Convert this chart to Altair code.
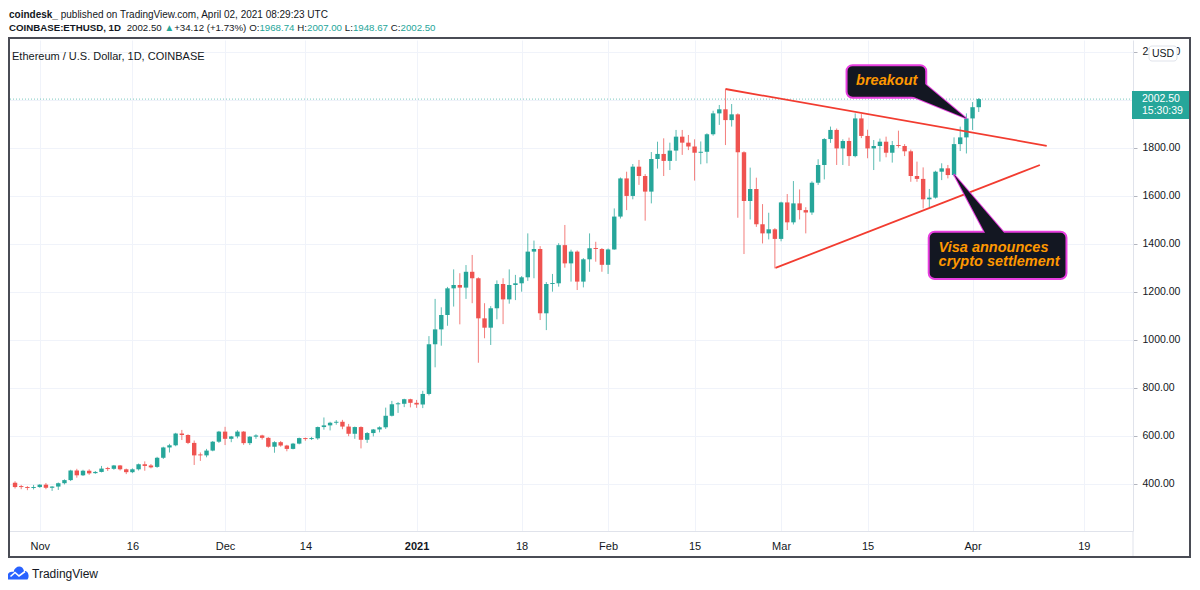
import altair as alt
import numpy as np
import pandas as pd

GREEN = "#26a69a"
RED = "#ef5350"
DARK = "#131722"
GRID = "#f0f3fa"
AXISLINE = "#e0e3eb"
FONT = "Liberation Sans"

# ---------------- data ----------------
dates = pd.date_range("2020-10-28", "2021-04-02", freq="D")
opens = [404, 389, 386, 382, 386, 396, 383, 388, 402, 415,
         455, 435, 454, 444, 449, 463, 462, 476, 460, 448,
         460, 481, 476, 470, 508, 551, 560, 609, 603, 570,
         520, 518, 538, 575, 617, 587, 597, 617, 569, 596,
         601, 591, 554, 573, 559, 545, 567, 590, 586, 589,
         636, 643, 654, 658, 638, 608, 636, 583, 611, 626,
         635, 683, 731, 733, 752, 737, 730, 774, 981, 1043,
         1103, 1214, 1228, 1217, 1283, 1256, 1089, 1050, 1131, 1232,
         1168, 1228, 1235, 1260, 1367, 1378, 1110, 1232, 1235, 1394,
         1318, 1367, 1242, 1335, 1381, 1378, 1312, 1376, 1513, 1672,
         1599, 1721, 1682, 1617, 1753, 1774, 1745, 1788, 1846, 1821,
         1805, 1779, 1783, 1856, 1943, 1960, 1915, 1939, 1781, 1578,
         1628, 1481, 1443, 1460, 1420, 1572, 1489, 1568, 1540, 1530,
         1654, 1728, 1836, 1874, 1797, 1828, 1765, 1922, 1849, 1797,
         1807, 1825, 1779, 1811, 1807, 1785, 1682, 1670, 1585, 1592,
         1700, 1714, 1686, 1815, 1843, 1922, 1968.74]
highs = [410, 395, 390, 395, 398, 403, 390, 405, 418, 458,
         462, 458, 460, 453, 474, 470, 478, 478, 463, 464,
         484, 493, 482, 512, 554, 566, 612, 624, 606, 580,
         530, 545, 578, 620, 637, 599, 623, 619, 598, 606,
         604, 594, 577, 578, 562, 570, 592, 592, 595, 638,
         676, 658, 665, 666, 649, 638, 639, 615, 628, 639,
         717, 745, 740, 754, 754, 749, 787, 1015, 1170, 1135,
         1220, 1293, 1277, 1311, 1353, 1260, 1152, 1140, 1247, 1256,
         1293, 1270, 1265, 1443, 1413, 1390, 1240, 1274, 1402, 1478,
         1375, 1372, 1340, 1443, 1408, 1382, 1380, 1547, 1676, 1700,
         1732, 1749, 1690, 1782, 1825, 1839, 1821, 1874, 1874, 1853,
         1835, 1826, 1860, 1954, 1978, 2043, 1982, 1943, 1785, 1717,
         1675, 1565, 1529, 1465, 1575, 1607, 1661, 1626, 1552, 1660,
         1752, 1840, 1888, 1880, 1835, 1842, 1943, 1940, 1875, 1832,
         1838, 1846, 1828, 1871, 1815, 1792, 1742, 1718, 1628, 1704,
         1735, 1728, 1843, 1888, 1943, 1990, 2007]
lows = [380, 377, 373, 376, 383, 377, 370, 374, 397, 411,
        425, 432, 437, 441, 447, 453, 458, 455, 440, 444,
        455, 454, 464, 466, 503, 530, 556, 582, 565, 478,
        495, 510, 535, 570, 561, 573, 589, 562, 561, 587,
        584, 550, 529, 554, 535, 543, 564, 579, 582, 583,
        625, 622, 646, 627, 598, 587, 547, 570, 597, 614,
        628, 680, 695, 719, 718, 716, 715, 768, 885, 975,
        1058, 1138, 1064, 1170, 1152, 904, 1006, 978, 1085, 1065,
        1150, 1165, 1200, 1245, 1256, 1082, 1040, 1200, 1221, 1300,
        1242, 1207, 1218, 1283, 1325, 1283, 1274, 1375, 1505, 1540,
        1585, 1645, 1496, 1568, 1713, 1682, 1707, 1745, 1770, 1790,
        1663, 1731, 1735, 1850, 1895, 1811, 1888, 1508, 1357, 1501,
        1470, 1401, 1418, 1297, 1410, 1457, 1480, 1501, 1443, 1520,
        1645, 1668, 1820, 1728, 1728, 1724, 1760, 1840, 1756, 1707,
        1742, 1760, 1738, 1800, 1765, 1658, 1658, 1547, 1552, 1588,
        1665, 1672, 1680, 1786, 1776, 1874, 1948.67]
closes = [386, 386, 382, 386, 396, 383, 388, 402, 415, 455,
          435, 454, 443, 449, 463, 461, 476, 460, 448, 460,
          481, 474, 468, 508, 551, 560, 609, 603, 570, 518,
          518, 538, 575, 617, 587, 597, 617, 569, 596, 601,
          591, 554, 573, 559, 545, 567, 590, 586, 589, 636,
          643, 654, 658, 638, 608, 636, 583, 611, 626, 635,
          683, 731, 733, 752, 737, 730, 774, 981, 1043, 1103,
          1214, 1228, 1217, 1283, 1256, 1089, 1050, 1131, 1232, 1168,
          1228, 1235, 1260, 1367, 1378, 1110, 1232, 1235, 1394, 1318,
          1367, 1242, 1335, 1381, 1378, 1312, 1376, 1513, 1672, 1599,
          1721, 1682, 1617, 1753, 1774, 1745, 1788, 1846, 1821, 1805,
          1779, 1783, 1856, 1943, 1960, 1915, 1939, 1781, 1578, 1628,
          1481, 1443, 1460, 1420, 1572, 1489, 1568, 1540, 1530, 1654,
          1728, 1836, 1874, 1797, 1828, 1765, 1922, 1849, 1797, 1807,
          1825, 1779, 1811, 1807, 1785, 1682, 1670, 1585, 1592, 1700,
          1714, 1686, 1815, 1843, 1922, 1968.74, 2002.5]

tick_days = [0, 15, 30, 43, 61, 78, 92, 106, 120, 134, 151, 169]
tick_labels = ["Nov", "16", "Dec", "14", "2021", "18", "Feb", "15", "Mar", "15", "Apr", "19"]
price_ticks = [400, 600, 800, 1000, 1200, 1400, 1600, 1800, 2000, 2200]

# triangle trend lines (day index from Nov 1, price)
trend_names = ["upper", "upper", "lower", "lower"]
trend_days = [111.0, 163.0, 119.1, 161.9]
trend_prices = [2044.6, 1808.0, 1299.0, 1728.0]

# annotation callouts
breakout_label = "breakout"
breakout_box_days = [130.6, 143.5]
breakout_box_prices = [2008.0, 2144.0]
breakout_text_at = [137.1, 2078.0]
breakout_ptr_days = [140.7, 143.3, 150.0]
breakout_ptr_prices = [2019.6, 2065.4, 1922.0]

visa_lines = ["Visa announces", "crypto settlement"]
visa_box_days = [143.9, 166.2]
visa_box_prices = [1253.0, 1450.0]
visa_text_days = [145.5, 145.5]
visa_text_prices = [1381.0, 1322.5]
visa_ptr_days = [153.2, 156.4, 147.97]
visa_ptr_prices = [1436.0, 1436.0, 1689.0]

# header segments: (text, colour, weight, gap after in spaces)
header1 = [("coindesk_", DARK, "bold", 1),
           ("published on TradingView.com, April 02, 2021 08:29:23 UTC", DARK, "normal", 0)]
header2 = [("COINBASE:ETHUSD, 1D", DARK, "bold", 2), ("2002.50", DARK, "normal", 1),
           ("\u25b2", GREEN, "normal", 1), ("+34.12 (+1.73%)", DARK, "normal", 1),
           ("O:", DARK, "normal", 0), ("1968.74", GREEN, "normal", 1),
           ("H:", DARK, "normal", 0), ("2007.00", GREEN, "normal", 1),
           ("L:", DARK, "normal", 0), ("1948.67", GREEN, "normal", 1),
           ("C:", DARK, "normal", 0), ("2002.50", GREEN, "normal", 0)]

# ---------------- frame ----------------
origin = pd.Timestamp("2020-11-01")
df = pd.DataFrame({"date": dates, "open": opens, "high": highs, "low": lows, "close": closes})
df["day"] = (df["date"] - origin).dt.days
up = df["close"] >= df["open"]
df["color"] = np.where(up, GREEN, RED)
df["blo"] = np.minimum(df["open"], df["close"])
df["bhi"] = np.maximum(np.maximum(df["open"], df["close"]), df["blo"] + 4)

W, H = 1125, 491
xs = alt.Scale(domain=[-4.33, 176.16], nice=False, zero=False)
ys = alt.Scale(domain=[202.9, 2248.75], nice=False, zero=False)

label_expr = "[" + ",".join("'%s'" % t for t in tick_labels) + "][indexof([" + \
    ",".join(str(d) for d in tick_days) + "], datum.value)]"
xaxis = alt.Axis(values=tick_days, labelExpr=label_expr, grid=True, gridColor=GRID,
                 ticks=False, domain=True, domainColor=AXISLINE, labelFont=FONT,
                 labelFontSize=11, labelColor=DARK, labelPadding=9, title=None,
                 labelFontWeight={"condition": {"test": "datum.value == 61", "value": "bold"},
                                  "value": "normal"})
yaxis = alt.Axis(orient="right", values=price_ticks, format=".2f", grid=True, gridColor=GRID,
                 tickColor="#b2b5be", tickSize=4, domain=True, domainColor=AXISLINE,
                 labelFont=FONT, labelFontSize=10.5, labelColor=DARK, labelPadding=5,
                 title=None)


def X(f):
    return alt.X(f, scale=xs, axis=xaxis)


def Y(f):
    return alt.Y(f, scale=ys, axis=yaxis)


base = alt.Chart(df)
wicks = base.mark_rule(strokeWidth=1, opacity=0.75).encode(
    x=X("day:Q"), y=Y("low:Q"), y2="high:Q", color=alt.Color("color:N", scale=None))
bodies = base.mark_bar(size=4.4).encode(
    x=X("day:Q"), y=Y("blo:Q"), y2="bhi:Q", color=alt.Color("color:N", scale=None))

last = pd.DataFrame({"p": [closes[-1]]})
price_line = alt.Chart(last).mark_rule(color=GREEN, strokeDash=[1, 2], opacity=0.6).encode(
    y=Y("p:Q"))

tdf = pd.DataFrame({"name": trend_names, "d": trend_days, "p": trend_prices})
trends = alt.Chart(tdf).mark_line(color="#f23c30", strokeWidth=1.8).encode(
    x=X("d:Q"), y=Y("p:Q"), detail="name:N")

BOX = "#131722"
PINK = "#e83ee0"


def callout(box_d, box_p, ptr_d, ptr_p):
    ptr = pd.DataFrame({"d": ptr_d, "p": ptr_p, "i": list(range(len(ptr_d)))})
    p1 = alt.Chart(ptr).mark_line(interpolate="linear-closed", fill=BOX, stroke=PINK,
                                  strokeWidth=2).encode(x=X("d:Q"), y=Y("p:Q"), order="i:Q")
    bx = pd.DataFrame({"d0": [box_d[0]], "d1": [box_d[1]], "p0": [box_p[0]], "p1": [box_p[1]]})
    r = alt.Chart(bx).mark_rect(fill=BOX, stroke=PINK, strokeWidth=2, cornerRadius=6).encode(
        x=X("d0:Q"), x2="d1:Q", y=Y("p0:Q"), y2="p1:Q")
    p2 = alt.Chart(ptr).mark_line(interpolate="linear-closed", fill=BOX, strokeWidth=0,
                                  stroke=BOX, strokeOpacity=0).encode(
        x=X("d:Q"), y=Y("p:Q"), order="i:Q")
    return [p1, r, p2]


ORANGE = "#ff9800"
btxt = alt.Chart(pd.DataFrame({"t": [breakout_label], "d": [breakout_text_at[0]],
                               "p": [breakout_text_at[1]]})).mark_text(
    font=FONT, fontSize=14.5, fontWeight="bold", fontStyle="italic", color=ORANGE,
    align="center", baseline="middle").encode(x=X("d:Q"), y=Y("p:Q"), text="t:N")
vtxt = alt.Chart(pd.DataFrame({"t": visa_lines, "d": visa_text_days, "p": visa_text_prices})).mark_text(
    font=FONT, fontSize=14.5, fontWeight="bold", fontStyle="italic", color=ORANGE,
    align="left", baseline="middle").encode(x=X("d:Q"), y=Y("p:Q"), text="t:N")


def txt(s, px, py, color=DARK, size=10, weight="normal", align="left", font=FONT):
    return alt.Chart(pd.DataFrame({"t": [s]})).mark_text(
        align=align, baseline="middle", color=color, fontSize=size, fontWeight=weight,
        font=font).encode(x=alt.value(px - 8), y=alt.value(py - 40), text="t:N")


# approximate Arial metrics for laying out the coloured header segments
REG = {" ": 278, "%": 889, "(": 333, ")": 333, "+": 584, ",": 278, ".": 278, ":": 278,
       "_": 556, "A": 667, "C": 722, "D": 722, "H": 722, "L": 556, "O": 778, "T": 611,
       "U": 722, "V": 667, "c": 500, "i": 222, "k": 500, "l": 222, "m": 833, "r": 333,
       "s": 500, "t": 278, "v": 500, "w": 722, "\u25b2": 700}
BLD = {" ": 278, ",": 278, ":": 333, "I": 278, "E": 667, "S": 667, "T": 611, "O": 778,
       "i": 278, "o": 611, "n": 611, "d": 611, "c": 556, "e": 556, "s": 556, "k": 556}


def width(s, size, bold):
    tab = BLD if bold else REG
    dflt = 722 if bold else 556
    return sum(tab.get(ch, dflt if ch.isupper() else 556) for ch in s) * size / 1000.0


layers = [wicks, bodies, price_line, trends]
layers += callout(breakout_box_days, breakout_box_prices, breakout_ptr_days, breakout_ptr_prices)
layers += callout(visa_box_days, visa_box_prices, visa_ptr_days, visa_ptr_prices)
layers += [btxt, vtxt]

for line, py, hs in ((header1, 14.5, 10), (header2, 28.0, 9.7)):
    px = 9
    for s, col, wt, gap in line:
        layers.append(txt(s, px, py, color=col, size=hs, weight=wt))
        px += width(s, hs, wt == "bold") + gap * 2.8

layers.append(txt("Ethereum / U.S. Dollar, 1D, COINBASE", 12, 57, size=11))

one = pd.DataFrame({"a": [0]})
# last price tag on the price scale
layers.append(alt.Chart(one).mark_rect(color=GREEN).encode(
    x=alt.value(1124), x2=alt.value(1181), y=alt.value(51), y2=alt.value(79)))
layers.append(txt("%.2f" % closes[-1], 1142, 98.5, color="white", size=10.5))
layers.append(txt("15:30:39", 1142, 111, color="white", size=10.5))
# USD button (covers most of the 2200.00 label, as on the original)
layers.append(alt.Chart(one).mark_rect(fill="white", stroke=AXISLINE, strokeWidth=1,
                                       cornerRadius=3).encode(
    x=alt.value(1141), x2=alt.value(1169), y=alt.value(6), y2=alt.value(21)))
layers.append(txt("USD", 1163, 53.5, size=10.5, align="center"))
# chart frame
layers.append(alt.Chart(one).mark_rect(fillOpacity=0, stroke="#4a4c55", strokeWidth=2).encode(
    x=alt.value(1), x2=alt.value(1182), y=alt.value(-2), y2=alt.value(517)))
layers.append(alt.Chart(one).mark_rule(color=AXISLINE).encode(
    x=alt.value(1125), y=alt.value(491), y2=alt.value(516)))
# TradingView footer
cloud = ("M-1,0.65 C-1.25,0.15 -0.8,-0.25 -0.45,-0.1 C-0.3,-0.75 0.45,-0.85 0.6,-0.2 "
         "C1.0,-0.3 1.2,0.3 0.95,0.65 Z")
layers.append(alt.Chart(one).mark_point(shape=cloud, filled=True, color="#2962ff", size=400,
                                        opacity=1).encode(x=alt.value(10), y=alt.value(533)))
zig = "M-0.75,0.35 L-0.3,-0.05 L0.1,0.3 L0.7,-0.15"
layers.append(alt.Chart(one).mark_point(shape=zig, filled=False, color="white", size=400,
                                        strokeWidth=1.6, opacity=1).encode(
    x=alt.value(10), y=alt.value(533)))
layers.append(txt("TradingView", 32, 574, size=12))

chart = alt.layer(*layers).properties(
    width=W, height=H,
    autosize=alt.AutoSizeParams(type="none"),
    padding={"left": 0, "top": 32, "right": 59, "bottom": 50},
    background="white",
).configure_view(strokeWidth=0)

chart.save("out.html", embed_options={"renderer": "svg", "actions": False})
